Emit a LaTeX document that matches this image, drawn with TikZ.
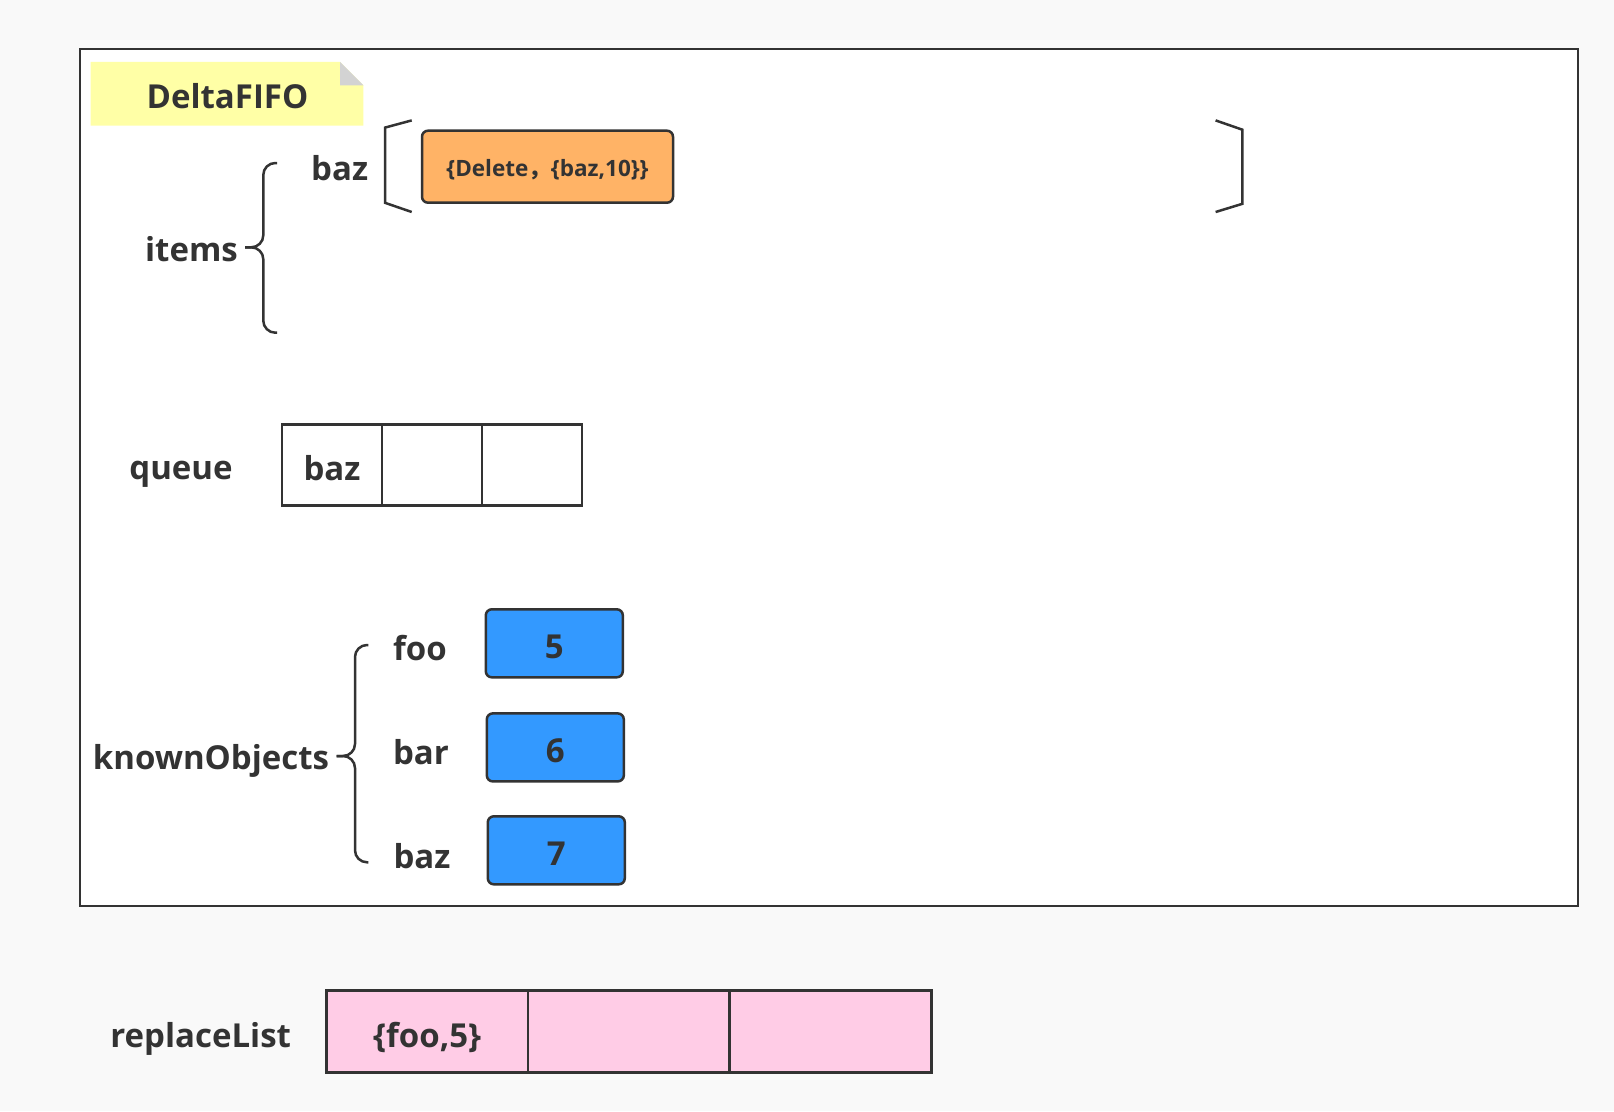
\documentclass[tikz,border=0pt]{standalone}
\usepackage{fontspec}
\setmainfont{Open Sans}
\newfontfamily\cjkfont{Noto Sans CJK SC}
\usetikzlibrary{positioning}
\definecolor{pagegray}{HTML}{F9F9F9}
\definecolor{linegray}{HTML}{333333}
\definecolor{textgray}{HTML}{333333}
\definecolor{noteyellow}{HTML}{FFFFA6}
\definecolor{foldgray}{HTML}{D3D3D3}
\definecolor{deltaorange}{HTML}{FFB366}
\definecolor{objblue}{HTML}{3399FF}
\definecolor{listpink}{HTML}{FFCCE6}
\tikzset{
  keytext/.style={font=\bfseries\fontsize{33}{40}\selectfont,text=textgray,inner sep=0pt},
  deltabox/.style={draw=linegray,fill=deltaorange,rounded corners=6pt,line width=2.5pt,minimum width=251pt,minimum height=72pt,inner sep=0pt,text height=19pt,text depth=0pt,text=textgray,font=\bfseries\fontsize{22.5}{27}\selectfont},
  objbox/.style={draw=linegray,fill=objblue,rounded corners=6pt,line width=2.5pt,minimum width=137pt,minimum height=68pt,inner sep=0pt,text height=31pt,text depth=0pt,text=textgray,font=\bfseries\fontsize{33}{40}\selectfont},
  queuecell/.style={draw=linegray,fill=white,line width=2.7pt,minimum width=100pt,minimum height=81pt,inner sep=0pt,outer sep=0pt,text height=32pt,text depth=0pt,text=textgray,font=\bfseries\fontsize{33}{40}\selectfont},
  replcell/.style={draw=linegray,fill=listpink,line width=2.7pt,minimum width=201.7pt,minimum height=82pt,inner sep=0pt,outer sep=0pt,text height=33pt,text depth=0pt,text=textgray,font=\bfseries\fontsize{33}{40}\selectfont},
  bracketline/.style={draw=linegray,line width=2.5pt},
  keybrace/.style={draw=linegray,line width=2.5pt,rounded corners=12pt}
}
\begin{document}
\begin{tikzpicture}[x=1pt,y=-1pt]
  % page and frame
  \fill[pagegray] (0,0) rectangle (1614,1111);
  \useasboundingbox (0,0) rectangle (1614,1111);
  \draw[linegray,line width=2.5pt,fill=white] (80,49) rectangle (1578,906);

  % DeltaFIFO note
  \fill[noteyellow] (90.6,61.8) -- (340,61.8) -- (363.4,85.4) -- (363.4,125.6) -- (90.6,125.6) -- cycle;
  \fill[foldgray] (340,61.8) -- (363.4,85.4) -- (340,85.4) -- cycle;
  \node[keytext] (fifo) at (227.5,96) {DeltaFIFO};

  % items
  \node[keytext] (items) at (191.5,249) {items};
  \node[keytext] (itembaz) at (339.7,168) {baz};
  \node[deltabox] (delta) at (547.5,166.7) {\{Delete{\cjkfont ，}\{baz,10\}\}};
  \draw[bracketline] (411.7,120.4) -- (385,127.6) -- (385,202.8) -- (411.7,212);
  \draw[bracketline] (1215.6,120.4) -- (1242.4,129.7) -- (1242.4,203.8) -- (1215.6,212);
  \draw[keybrace] (277,163) -- (263.3,163) -- (263.3,247.3) -- (245,247.3);
  \draw[keybrace] (277,332.7) -- (263.3,332.7) -- (263.3,247.3) -- (245,247.3);

  % queue
  \node[keytext] (queue) at (181,474.3) {queue};
  \node[queuecell] (q1) at (332,464.7) {baz};
  \node[queuecell,right=0pt of q1] (q2) {};
  \node[queuecell,right=0pt of q2] (q3) {};

  % knownObjects
  \node[keytext] (known) at (211,760.5) {knownObjects};
  \draw[keybrace] (368.3,645) -- (355,645) -- (355,756) -- (336.7,756);
  \draw[keybrace] (368.3,862.3) -- (355,862.3) -- (355,756) -- (336.7,756);
  \node[keytext] (kfoo) at (420,648.5) {foo};
  \node[keytext] (kbar) at (421,752.4) {bar};
  \node[keytext] (kbaz) at (422,856.4) {baz};
  \node[objbox] (o1) at (554.3,643.3) {5};
  \node[objbox] (o2) at (555.3,747.4) {6};
  \node[objbox] (o3) at (556.3,850.3) {7};

  % replaceList
  \node[keytext] (repl) at (200.7,1038.5) {replaceList};
  \node[replcell] (r1) at (427.2,1031.4) {\{foo,5\}};
  \node[replcell,right=0pt of r1] (r2) {};
  \node[replcell,right=0pt of r2] (r3) {};
\end{tikzpicture}
\end{document}
